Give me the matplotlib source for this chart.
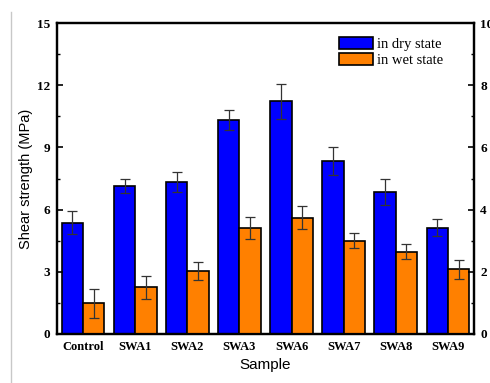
import matplotlib
matplotlib.use("Agg")
import matplotlib.pyplot as plt
import numpy as np
from matplotlib.lines import Line2D
from matplotlib.ticker import MultipleLocator

samples = ['Control', 'SWA1', 'SWA2', 'SWA3', 'SWA6', 'SWA7', 'SWA8', 'SWA9']

# dry shear strength, MPa (left axis)
dry = [5.37, 7.15, 7.32, 10.32, 11.22, 8.36, 6.83, 5.13]
dry_err = [0.55, 0.33, 0.48, 0.48, 0.83, 0.68, 0.63, 0.40]

# wet shear strength (right axis)
wet = [0.99, 1.50, 2.03, 3.42, 3.74, 3.00, 2.65, 2.08]
wet_err = [0.47, 0.37, 0.28, 0.35, 0.37, 0.24, 0.25, 0.30]

serif = 'Liberation Serif'
sans = 'Liberation Sans'

fig = plt.figure(figsize=(4.9, 3.83), dpi=100)
ax = fig.add_axes([57/490, 1 - 334/383, (474 - 57)/490, (334 - 23)/383])
ax2 = ax.twinx()

x = np.arange(len(samples))
w = 0.41
ebar = dict(ecolor='#333333', elinewidth=0.9, capsize=3.5, capthick=0.9)

b1 = ax.bar(x - w/2, dry, w, yerr=dry_err, color='#0000ff', edgecolor='black',
            linewidth=1.2, error_kw=ebar, label='in dry state')
b2 = ax2.bar(x + w/2, wet, w, yerr=wet_err, color='#ff8000', edgecolor='black',
             linewidth=1.2, error_kw=ebar, label='in wet state')

ax.set_xlim(-0.5, len(samples) - 0.5)
ax.set_ylim(0, 15)
ax2.set_ylim(0, 10)
ax.yaxis.set_major_locator(MultipleLocator(3))
ax.yaxis.set_minor_locator(MultipleLocator(1.5))
ax2.yaxis.set_major_locator(MultipleLocator(2))
ax2.yaxis.set_minor_locator(MultipleLocator(1))

ax.set_xticks(x)
ax.set_xticklabels(samples, fontfamily=serif, fontweight='bold', fontsize=9)
ax.tick_params(axis='x', length=0, pad=5)
ax.tick_params(axis='y', direction='in', length=4, width=1.2, pad=5,
               labelsize=9.5)
ax.tick_params(axis='y', which='minor', direction='in', length=2.5, width=1)
ax2.tick_params(axis='y', direction='in', length=4, width=1.2, pad=4.5,
                labelsize=9.5)
ax2.tick_params(axis='y', which='minor', direction='in', length=2.5, width=1)
for lab in ax.get_yticklabels() + ax2.get_yticklabels():
    lab.set_fontfamily(serif)
    lab.set_fontweight('bold')

for a in (ax, ax2):
    for s in a.spines.values():
        s.set_linewidth(1.6)

ax.set_ylabel('Shear strength (MPa)', fontfamily=sans, fontsize=10.5, labelpad=3)
ax.set_xlabel('Sample', fontfamily=sans, fontsize=11, labelpad=4)

ax2.legend([b1, b2], ['in dry state', 'in wet state'], loc='upper left',
           bbox_to_anchor=(0.663, 0.975), frameon=False,
           prop={'family': serif, 'size': 10.5}, handlelength=2.3,
           handleheight=0.95, handletextpad=0.3, labelspacing=0.12,
           borderaxespad=0)

# thin grey border on the left of the image
fig.add_artist(Line2D([11/490, 11/490], [0, 1 - 12/383], color='#c8c8c8',
                      linewidth=1, transform=fig.transFigure))

fig.savefig('out.png', dpi=100)
